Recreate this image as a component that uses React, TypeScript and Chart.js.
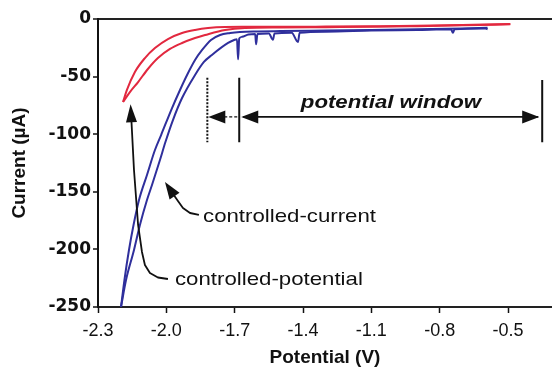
import React, { useEffect, useRef } from "react";
import { Chart, registerables } from "chart.js";

Chart.register(...registerables);

// ---- data (potential in V, current in µA) ----
const X_TICKS = [-2.3, -2.0, -1.7, -1.4, -1.1, -0.8, -0.5];
const Y_TICKS = [-250, -200, -150, -100, -50, 0];

// controlled-potential (red), two scans
const RED_A_X = [-2.19, -2.173, -2.138, -2.094, -2.05, -1.993, -1.931, -1.874, -1.817, -1.742, -1.668, -1.5, -1.3, -1.1, -0.9, -0.7, -0.49];
const RED_A_Y = [-72, -61.6, -46, -33.9, -25.2, -17.4, -12.2, -9.5, -7.8, -6.9, -6.8, -6.8, -6.6, -6.3, -5.9, -5.2, -4.3];
const RED_B_X = [-2.19, -2.16, -2.124, -2.081, -2.037, -1.984, -1.931, -1.874, -1.83, -1.742, -1.655, -1.5, -1.3, -1.1, -0.9, -0.7, -0.49];
const RED_B_Y = [-72, -63.4, -54.7, -43.4, -33.9, -26, -20.8, -16.5, -13.9, -9.5, -7.8, -7.4, -7.1, -6.8, -6.2, -5.5, -4.6];

// controlled-current (blue), two scans
const BLUE_A_X = [-2.199, -2.184, -2.164, -2.144, -2.12, -2.085, -2.05, -2.023, -1.975, -1.94, -1.909, -1.874, -1.843, -1.804, -1.764, -1.72, -1.677, -1.6, -1.5, -1.3, -1.1, -0.9, -0.7, -0.59];
const BLUE_A_Y = [-250, -226.6, -200.5, -178.8, -157.1, -135.4, -113.7, -100.7, -77.3, -61.6, -48.6, -35.6, -26.9, -18.2, -13.9, -12.2, -11.3, -10.8, -10.5, -10, -9.5, -9, -8.2, -7.6];
const BLUE_B_X = [-2.199, -2.177, -2.142, -2.116, -2.085, -2.063, -2.028, -2.004, -1.971, -1.931, -1.874, -1.835, -1.8, -1.729, -1.7, -1.69, -1.685, -1.68, -1.668, -1.64, -1.61, -1.606, -1.6, -1.55, -1.532, -1.525, -1.45, -1.422, -1.415, -1.3, -1.1, -0.9, -0.75, -0.742, -0.735, -0.6, -0.59];
const BLUE_B_Y = [-250, -226.6, -200.5, -178.8, -157.1, -144.1, -122.4, -106.8, -87.7, -68.6, -48.6, -37.3, -31.2, -20.8, -18, -17.5, -35, -17, -15.5, -13.5, -13, -22, -13, -12.5, -18, -12.5, -12, -20, -12, -11, -10, -9.5, -9, -12, -9, -8.2, -9];

// ---- annotations (data units) ----
const WINDOW_Y = -85;
const DOTTED_X = -1.82;
const SOLID_X = -1.68;
const RIGHT_X = -0.35;
const BAR_TOP = -51;
const BAR_BOTTOM = -107;

const CP_ARROW = [[-1.993, -225.7], [-2.037, -224.4], [-2.072, -220.5], [-2.094, -213.5], [-2.107, -202.2], [-2.124, -178.8], [-2.142, -131.1], [-2.157, -74]];
const CC_ARROW = [[-1.857, -170.1], [-1.896, -168.4], [-1.927, -164.1], [-1.949, -158], [-2.006, -141.5]];

const LABELS = [
  { text: "potential window", x: -1.014, y: -77.3, style: "italic bold", align: "center" },
  { text: "controlled-current", x: -1.839, y: -175.8, style: "", align: "left" },
  { text: "controlled-potential", x: -1.962, y: -230.9, style: "", align: "left" },
];

const toPts = (xs: number[], ys: number[]) => xs.map((x, i) => ({ x, y: ys[i] }));

function arrowHead(ctx: CanvasRenderingContext2D, fx: number, fy: number, tx: number, ty: number, len: number, hw: number) {
  const dx = tx - fx, dy = ty - fy;
  const d = Math.hypot(dx, dy) || 1;
  const ux = dx / d, uy = dy / d;
  const bx = tx - ux * len, by = ty - uy * len;
  ctx.beginPath();
  ctx.moveTo(tx, ty);
  ctx.lineTo(bx - uy * hw, by + ux * hw);
  ctx.lineTo(bx + uy * hw, by - ux * hw);
  ctx.closePath();
  ctx.fill();
}

const annotationPlugin = {
  id: "annotations",
  afterDatasetsDraw(chart: any) {
    const ctx: CanvasRenderingContext2D = chart.ctx;
    const sx = chart.scales.x, sy = chart.scales.y;
    const X = (v: number) => sx.getPixelForValue(v);
    const Y = (v: number) => sy.getPixelForValue(v);
    ctx.save();
    ctx.strokeStyle = "#111";
    ctx.fillStyle = "#111";
    ctx.lineCap = "butt";

    // vertical bars
    ctx.lineWidth = 2;
    ctx.setLineDash([2, 1.5]);
    ctx.beginPath();
    ctx.moveTo(X(DOTTED_X), Y(BAR_TOP));
    ctx.lineTo(X(DOTTED_X), Y(BAR_BOTTOM));
    ctx.stroke();
    ctx.setLineDash([]);
    ctx.beginPath();
    ctx.moveTo(X(SOLID_X), Y(BAR_TOP));
    ctx.lineTo(X(SOLID_X), Y(BAR_BOTTOM));
    ctx.moveTo(X(RIGHT_X), Y(BAR_TOP - 2));
    ctx.lineTo(X(RIGHT_X), Y(BAR_BOTTOM));
    ctx.stroke();

    // window double arrow
    const wy = Y(WINDOW_Y);
    ctx.lineWidth = 1.6;
    ctx.beginPath();
    ctx.moveTo(X(SOLID_X) + 4, wy);
    ctx.lineTo(X(RIGHT_X) - 4, wy);
    ctx.stroke();
    arrowHead(ctx, X(SOLID_X) + 30, wy, X(SOLID_X) + 2, wy, 17, 6.5);
    arrowHead(ctx, X(RIGHT_X) - 30, wy, X(RIGHT_X) - 3, wy, 17, 6.5);

    // small dashed arrow to dotted bar
    ctx.setLineDash([3, 2]);
    ctx.lineWidth = 1.4;
    ctx.beginPath();
    ctx.moveTo(X(SOLID_X) - 2, wy);
    ctx.lineTo(X(DOTTED_X) + 16, wy);
    ctx.stroke();
    ctx.setLineDash([]);
    arrowHead(ctx, X(SOLID_X), wy, X(DOTTED_X) + 1, wy, 17, 6.5);

    // curved pointer arrows
    const drawPointer = (pts: number[][], len: number, hw: number) => {
      ctx.lineWidth = 1.8;
      ctx.lineJoin = "round";
      ctx.beginPath();
      const n = pts.length;
      const tx = X(pts[n - 1][0]), ty = Y(pts[n - 1][1]);
      const fx = X(pts[n - 2][0]), fy = Y(pts[n - 2][1]);
      const d = Math.hypot(tx - fx, ty - fy);
      const ex = tx - ((tx - fx) / d) * (len - 2), ey = ty - ((ty - fy) / d) * (len - 2);
      ctx.moveTo(X(pts[0][0]), Y(pts[0][1]));
      for (let i = 1; i < n - 1; i++) ctx.lineTo(X(pts[i][0]), Y(pts[i][1]));
      ctx.lineTo(ex, ey);
      ctx.stroke();
      arrowHead(ctx, fx, fy, tx, ty, len, hw);
    };
    drawPointer(CP_ARROW, 18, 5.5);
    drawPointer(CC_ARROW, 17, 6);

    // labels
    ctx.textBaseline = "alphabetic";
    for (const l of LABELS) {
      ctx.save();
      ctx.font = `${l.style} 19px "Liberation Sans", Arial, sans-serif`.trim();
      ctx.textAlign = l.align as CanvasTextAlign;
      ctx.translate(X(l.x), Y(l.y));
      ctx.scale(1.17, 1);
      ctx.fillText(l.text, 0, 0);
      ctx.restore();
    }
    ctx.restore();
  },
};

export default function App() {
  const ref = useRef<HTMLCanvasElement | null>(null);
  useEffect(() => {
    document.body.style.margin = "0";
    const canvas = ref.current;
    if (!canvas) return;
    const red = "#e2283f";
    const blue = "#2f2f9c";
    const line = (data: any, color: string, width = 2) => ({
      data,
      borderColor: color,
      backgroundColor: color,
      borderWidth: width,
      pointRadius: 0,
      showLine: true,
      cubicInterpolationMode: "monotone" as const,
      fill: false,
    });
    const chart = new Chart(canvas, {
      type: "scatter",
      data: {
        datasets: [
          line(toPts(BLUE_A_X, BLUE_A_Y), blue),
          line(toPts(BLUE_B_X, BLUE_B_Y), blue),
          line(toPts(RED_A_X, RED_A_Y), red),
          line(toPts(RED_B_X, RED_B_Y), red),
        ],
      },
      options: {
        animation: false,
        responsive: false,
        devicePixelRatio: 1,
        layout: { padding: { top: 19, right: 0, left: 0, bottom: 0 } },
        plugins: { legend: { display: false }, tooltip: { enabled: false } },
        scales: {
          x: {
            type: "linear",
            min: -2.3,
            max: -0.307,
            afterBuildTicks: (scale: any) => {
              scale.ticks = X_TICKS.map((v) => ({ value: v }));
            },
            afterFit: (scale: any) => {
              scale.height = 62;
            },
            grid: { drawOnChartArea: false, tickLength: 6, tickColor: "#111", tickWidth: 1.5 },
            border: { display: true, color: "#222", width: 2 },
            ticks: {
              color: "#111",
              padding: 7,
              font: { family: '"Liberation Sans", Arial, sans-serif', size: 18 },
              callback: (v: any) => Number(v).toFixed(1),
              maxRotation: 0,
              autoSkip: false,
            },
            title: {
              display: true,
              text: "Potential (V)",
              color: "#111",
              font: { family: '"Liberation Sans", Arial, sans-serif', size: 19, weight: "bold" },
              padding: { top: 0, bottom: 0 },
            },
          },
          y: {
            type: "linear",
            min: -250,
            max: 0,
            afterBuildTicks: (scale: any) => {
              scale.ticks = Y_TICKS.map((v) => ({ value: v }));
            },
            afterFit: (scale: any) => {
              scale.width = 98;
            },
            grid: {
              drawOnChartArea: true,
              color: (c: any) => (c.tick && c.tick.value === 0 ? "#222" : "rgba(0,0,0,0)"),
              lineWidth: 2,
              tickLength: 5,
              tickColor: "#111",
              tickWidth: 1.5,
            },
            border: { display: true, color: "#111", width: 2 },
            ticks: {
              color: "#111",
              padding: 2,
              font: { family: '"DejaVu Sans", sans-serif', size: 17, weight: "bold" },
              autoSkip: false,
            },
            title: {
              display: true,
              text: "Current (µA)",
              color: "#111",
              font: { family: '"Liberation Sans", Arial, sans-serif', size: 19, weight: "bold" },
              padding: { top: 8, bottom: 0 },
            },
          },
        },
      },
      plugins: [annotationPlugin],
    });
    return () => chart.destroy();
  }, []);
  return (
    <div style={{ position: "fixed", left: 0, top: 0 }}>
      <canvas ref={ref} width={552} height={369} style={{ display: "block" }} />
    </div>
  );
}
